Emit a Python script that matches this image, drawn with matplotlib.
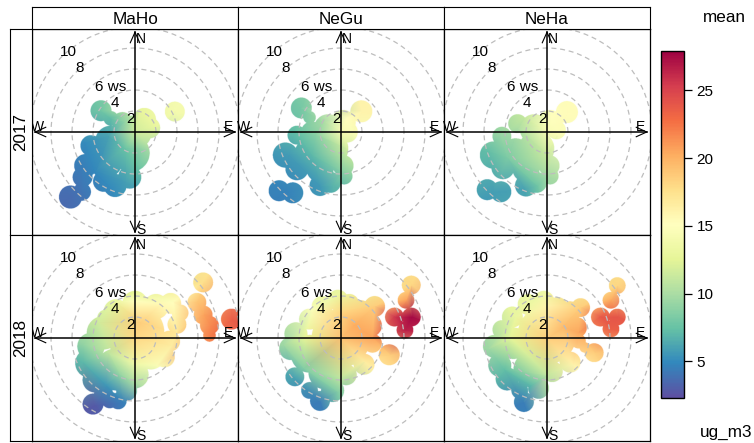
import numpy as np
import matplotlib
matplotlib.use("Agg")
import matplotlib.pyplot as plt
from matplotlib.colors import Normalize
from matplotlib.cm import ScalarMappable

plt.rcParams['font.family'] = ['Liberation Sans', 'DejaVu Sans']

sites = ["MaHo", "NeGu", "NeHa"]
years = ["2017", "2018"]
ws_rings = [2, 4, 6, 8, 10]
ring_labels = ["2", "4", "6 ws", "8", "10"]
cbar_ticks = [5, 10, 15, 20, 25]
cbar_min, cbar_max = 2.3, 27.9

# mean concentration: (x east, y north [ws units], value)
maho17_pts = [
    (0, 0, 11.5), (0.5, 2.0, 12.8), (2.0, 0.5, 13.0), (1.3, -1.6, 9.8),
    (0.35, -3.5, 7.6), (-0.9, -4.8, 5.8), (-2.2, -5.4, 5.0), (-3.8, -3.8, 4.8),
    (-5.0, -2.9, 4.5), (-4.7, -1.0, 5.0), (-2.5, -0.35, 6.0), (-1.0, -1.5, 7.5),
    (-1.0, 1.0, 9.0), (-2.3, 1.3, 7.2), (-3.24, 2.03, 7.8), (3.8, 1.95, 14.0),
    (-6.15, -6.2, 3.6), (-5.05, -5.7, 4.0),
    (0, 12, 12), (8.5, 8.5, 14.5), (12, 0, 13), (8.5, -8.5, 8),
    (0, -12, 5), (-8.5, -8.5, 3.3), (-12, 0, 4.5), (-8.5, 8.5, 7),
]
negu17_pts = [
    (0, 0, 14.2), (0.5, 1.3, 15.0), (1.94, 1.97, 16.0), (1.1, 0, 14.5),
    (0.5, -1.6, 11.5), (0.2, -3.8, 8.7), (-0.75, -5.1, 6.8), (-2.0, -5.1, 5.6),
    (-5.2, -5.7, 4.6), (-4.9, -2.2, 5.7), (-2.7, -2.2, 7.0), (-2.35, -0.3, 8.7),
    (-1.7, 0.95, 9.8), (-3.78, 2.29, 8.0), (-4.4, 0.16, 7.3),
    (0, 12, 13), (8.5, 8.5, 16), (12, 0, 14), (8.5, -8.5, 9),
    (0, -12, 6), (-8.5, -8.5, 4.2), (-12, 0, 5.5), (-8.5, 8.5, 7.5),
]
neha17_pts = [
    (0, 0, 14.3), (0.4, 1.3, 15.0), (1.9, 1.9, 15.3), (1.0, -0.3, 14.5),
    (0.06, -2.2, 11.3), (0.06, -4.1, 9.8), (-0.9, -5.1, 7.8), (-2.2, -5.4, 6.0),
    (-5.0, -5.7, 5.8), (-5.65, -1.9, 7.2), (-3.75, -2.5, 8.2), (-2.8, 0.3, 10.0),
    (-2.2, 1.3, 11.0), (-4.4, -0.3, 9.3),
    (0, 12, 13.5), (8.5, 8.5, 15.5), (12, 0, 14.5), (8.5, -8.5, 10),
    (0, -12, 7), (-8.5, -8.5, 5.3), (-12, 0, 6.5), (-8.5, 8.5, 10),
]
maho18_pts = [
    (0, 0, 18.0), (0.5, 1.5, 18.5), (0, 3.5, 15.0), (0, 4.4, 12.5),
    (-2.0, 3.5, 13.0), (2.5, 3.3, 15.5), (3.65, 3.4, 15.0), (4.0, 0.5, 17.0),
    (3.5, -0.7, 16.5), (2.1, -2.6, 14.5), (0, -2.5, 13.5), (0, -4.3, 10.0),
    (-1.5, -3.5, 9.0), (-2.5, -1.5, 10.8), (-3.5, 1.5, 11.5), (-4.9, -0.7, 9.0),
    (-4.9, -2.3, 7.0), (-2.7, -4.5, 5.5), (-1.1, -6.1, 4.5), (-3.8, -6.4, 2.8),
    (6.5, 5.3, 17.5), (5.9, 3.4, 19.0), (6.5, 2.2, 20.5), (7.1, 1.2, 21.5),
    (7.1, 0.25, 22.0), (9.2, 1.8, 23.5),
    (0, 12, 11), (8.5, 8.5, 17), (12, 0, 24.5), (8.5, -8.5, 14),
    (0, -12, 4), (-8.5, -8.5, 2.5), (-12, 0, 6), (-8.5, 8.5, 10),
]
negu18_pts = [
    (0, 0, 19.2), (1.3, 1.2, 20.2), (0, 2.5, 18.0), (-0.3, 4.1, 13.0),
    (-2.8, 2.5, 14.5), (-3.5, 0, 12.5), (-5.4, -0.7, 9.5), (-3.5, -2.9, 8.5),
    (-4.4, -3.8, 6.0), (-2.0, -6.1, 4.3), (0, -3.8, 11.0), (-0.3, -5.1, 8.5),
    (3.0, 0, 20.5), (4.6, -1.6, 18.5), (2.25, -2.25, 16.5), (3.2, 3.0, 18.5),
    (5.1, 2.0, 25.5), (6.7, 2.0, 27.5), (6.1, 0.76, 26.5), (6.7, 5.05, 18.0),
    (6.2, 3.6, 20.5),
    (0, 12, 12), (8.5, 8.5, 17), (12, 0, 25), (8.5, -8.5, 15),
    (0, -12, 5), (-8.5, -8.5, 4), (-12, 0, 8), (-8.5, 8.5, 11),
]
neha18_pts = [
    (0, 0, 18.5), (1.5, 1.0, 19.5), (3.0, 0.5, 20.4), (0, 3.0, 16.0),
    (-0.25, 4.3, 13.5), (-3.0, 2.0, 13.0), (-3.5, 0, 12.5), (-5.5, -1.0, 9.5),
    (-4.0, -3.0, 7.3), (-2.2, -6.1, 4.4), (-1.5, -4.5, 7.0), (0, -3.5, 11.0),
    (2.5, -2.5, 16.0), (4.5, -1.4, 18.5), (3.2, 2.9, 18.5), (5.1, 2.0, 23.8),
    (6.7, 2.0, 24.0), (6.1, 0.86, 23.5), (6.7, 5.0, 18.0), (6.1, 3.6, 20.3),
    (0, 12, 12), (8.5, 8.5, 17), (12, 0, 23), (8.5, -8.5, 15),
    (0, -12, 5), (-8.5, -8.5, 4.5), (-12, 0, 8.5), (-8.5, 8.5, 11),
]

# area covered by data: circles (x, y, radius) in ws units
maho17_blobs = [
    (0.9, 1.2, 1.1), (1.4, 0.4, 1.0), (0, 0, 1.6), (-1.2, 0.9, 1.0),
    (-2.3, -0.9, 1.5), (-4.2, -1.3, 1.0), (-0.4, -2.0, 1.8), (-2.8, -2.8, 1.6),
    (-4.7, -3.2, 1.1), (-5.0, -4.3, 0.95), (-0.5, -4.3, 1.1), (-1.9, -5.1, 1.1),
    (-3.0, -4.7, 1.0), (-2.3, 1.3, 0.7), (-3.24, 2.03, 1.0), (3.8, 1.95, 0.95),
    (-6.15, -6.2, 1.1), (-5.05, -5.7, 0.85),
]
negu17_blobs = [
    (0.2, 0.9, 1.2), (1.94, 1.97, 1.05), (0.6, 0, 1.0), (-1.2, 0.3, 1.4),
    (-4.2, -0.3, 0.9), (-3.78, 2.29, 1.0), (-3.0, 1.4, 0.6), (-2.8, 0, 1.0),
    (-1.0, -1.6, 1.7), (-3.0, -2.0, 1.4), (-5.3, -2.2, 1.2), (-4.2, -3.5, 1.1),
    (-2.0, -3.5, 1.3), (0.2, -3.2, 1.0), (0.3, -4.2, 0.8), (-1.0, -4.8, 1.0),
    (-2.0, -5.1, 1.0), (-5.9, -5.6, 1.0), (-4.6, -5.8, 1.0),
]
neha17_blobs = [
    (0.3, 0.9, 1.2), (1.9, 1.9, 1.05), (0.9, 0.2, 0.9), (-1.2, 0.3, 1.4),
    (-2.8, 0.8, 0.9), (-4.3, -0.4, 0.9), (-1.0, -1.6, 1.7), (-3.0, -2.0, 1.4),
    (-5.1, -2.2, 1.3), (-4.2, -3.4, 1.1), (-2.0, -3.5, 1.3), (0.2, -3.2, 1.0),
    (0.3, -4.2, 0.8), (-1.0, -4.8, 1.0), (-2.0, -5.1, 1.05), (-5.7, -5.5, 1.0),
    (-4.4, -5.7, 1.0),
]
maho18_blobs = [
    (0, 3.3, 1.2), (-1.8, 2.5, 1.2), (-2.8, 1.9, 0.8), (2.0, 3.0, 1.2),
    (3.4, 3.3, 1.0), (4.0, 1.3, 0.9), (4.3, 2.4, 0.8), (0, 0.5, 2.8),
    (-3.0, 0.5, 1.6), (-4.2, -0.8, 1.3), (-4.3, -2.4, 1.4), (-3.8, -4.0, 1.2),
    (-1.8, -3.0, 2.0), (1.5, -1.5, 1.5), (2.8, -1.8, 1.0), (3.3, -0.3, 1.0),
    (0, -3.5, 1.3), (-0.8, -5.0, 1.0), (-3.0, -5.3, 0.9), (-1.6, -6.0, 0.8),
    (-4.0, -6.3, 1.0), (-2.4, -5.9, 0.8),
    (6.5, 5.3, 0.95), (5.9, 3.4, 0.9), (6.5, 2.2, 0.9), (7.1, 1.2, 0.9),
    (7.1, 0.25, 0.6), (9.2, 1.8, 1.0),
]
negu18_blobs = [
    (0, 0, 2.8), (-0.3, 3.6, 1.0), (-1.8, 3.0, 1.0), (0.8, 3.3, 0.9),
    (1.9, 2.6, 1.0), (3.2, 3.0, 1.0), (2.8, 1.2, 1.1), (3.0, -0.5, 0.9),
    (4.6, -1.6, 1.0), (2.2, -2.5, 1.0), (-3.0, 1.8, 1.0), (-4.3, 0.4, 1.1),
    (-4.8, -1.0, 1.1), (-3.0, -1.5, 1.8), (-4.4, -3.7, 0.9), (-1.5, -3.3, 1.6),
    (0.5, -3.5, 1.0), (-0.8, -5.0, 1.1), (-2.0, -6.0, 0.95), (-3.0, -5.0, 0.8),
    (5.1, 2.0, 0.9), (6.7, 2.0, 0.9), (6.1, 0.76, 0.8), (6.7, 5.05, 0.9),
    (6.2, 3.6, 0.8),
]
neha18_blobs = [
    (0, 0.3, 2.8), (-0.3, 3.5, 1.0), (-1.8, 3.2, 1.0), (1.0, 2.9, 1.0),
    (2.2, 2.5, 1.0), (3.2, 2.9, 0.9), (2.8, 1.0, 1.0), (3.0, -0.3, 0.7),
    (3.6, -0.9, 0.5), (4.5, -1.4, 0.9), (2.2, -2.3, 1.0), (-3.3, 2.0, 1.0),
    (-4.3, 0.8, 0.9), (-3.2, -0.5, 1.5), (-5.0, -0.8, 1.1), (-4.5, -2.6, 1.1),
    (-3.8, -3.9, 1.1), (-1.5, -3.0, 1.7), (0.5, -3.2, 1.0), (-0.8, -4.8, 1.0),
    (-2.2, -6.1, 0.95), (-2.6, -5.0, 0.8),
    (5.1, 2.0, 0.9), (6.7, 2.0, 0.8), (6.1, 0.86, 0.8), (6.7, 5.0, 0.8),
    (6.1, 3.6, 0.8),
]

panel_pts = [[maho17_pts, negu17_pts, neha17_pts], [maho18_pts, negu18_pts, neha18_pts]]
panel_blobs = [[maho17_blobs, negu17_blobs, neha17_blobs], [maho18_blobs, negu18_blobs, neha18_blobs]]

W, H = 754, 443
fig = plt.figure(figsize=(W / 100, H / 100), dpi=100)
cmap = plt.get_cmap('Spectral_r')
norm = Normalize(cbar_min, cbar_max)

px0, py0, pw = 32, 29, 206      # panel grid in pixels
lim = 103 / 10.5                 # half panel in ws units
U = 9.5                          # axis arrow length
ring_lab_xy = [(-0.42, 1.24), (-1.9, 2.73), (-2.3, 4.26), (-5.24, 6.07), (-6.35, 7.65)]

# fine grid used to blank out everything outside the data area
g = np.linspace(-lim, lim, 824)
GX, GY = np.meshgrid(g, g)


def fr(x, y, w, h):
    return [x / W, 1 - (y + h) / H, w / W, h / H]


for r, yr in enumerate(years):
    for c, site in enumerate(sites):
        ax = fig.add_axes(fr(px0 + c * pw, py0 + r * pw, pw, pw))
        ax.set_xticks([])
        ax.set_yticks([])
        for s in ax.spines.values():
            s.set_linewidth(0.9)

        pts = np.array(panel_pts[r][c], dtype=float)
        ax.tripcolor(pts[:, 0], pts[:, 1], pts[:, 2], shading='gouraud',
                     cmap=cmap, norm=norm, zorder=1)

        inside = np.zeros_like(GX, dtype=bool)
        for bx, by, br in panel_blobs[r][c]:
            inside |= (GX - bx) ** 2 + (GY - by) ** 2 <= br ** 2
        mask = np.ones(GX.shape + (4,))
        mask[..., 3] = ~inside
        ax.imshow(mask, extent=(-lim, lim, -lim, lim), origin='lower',
                  interpolation='antialiased', zorder=1.5, aspect='auto')

        # dashed ws circles
        th = np.linspace(0, 2 * np.pi, 200)
        for ws in ws_rings:
            ax.plot(ws * np.cos(th), ws * np.sin(th), color='#bdbdbd', lw=0.9,
                    ls=(0, (4, 3)), zorder=2)

        # axes with arrow heads
        ax.plot([-U, U], [0, 0], color='black', lw=1.1, zorder=3)
        ax.plot([0, 0], [-U, U], color='black', lw=1.1, zorder=3)
        hl, hw = 1.0, 0.45
        for dx, dy in [(1, 0), (-1, 0), (0, 1), (0, -1)]:
            tx, ty = dx * U, dy * U
            for sgn in (1, -1):
                ax.plot([tx, tx - dx * hl + sgn * dy * hw], [ty, ty - dy * hl + sgn * dx * hw],
                        color='black', lw=0.8, zorder=3)
        kw = dict(ha='center', va='center', fontsize=10, zorder=4)
        ax.text(0.55, 8.9, "N", **kw)
        ax.text(0.55, -9.35, "S", **kw)
        ax.text(-9.3, 0.5, "W", **kw)
        ax.text(8.95, 0.5, "E", **kw)
        for (lx, ly), lab in zip(ring_lab_xy, ring_labels):
            ax.text(lx, ly, lab, ha='center', va='center', fontsize=11, zorder=4)
        ax.set_xlim(-lim, lim)
        ax.set_ylim(-lim, lim)

# strips
for c, site in enumerate(sites):
    sax = fig.add_axes(fr(px0 + c * pw, 7, pw, 22))
    sax.set_xticks([])
    sax.set_yticks([])
    sax.text(0.5, 0.45, site, ha='center', va='center', fontsize=12.3, transform=sax.transAxes)
for r, yr in enumerate(years):
    sax = fig.add_axes(fr(10, py0 + r * pw, 22, pw))
    sax.set_xticks([])
    sax.set_yticks([])
    sax.text(0.5, 0.5, yr, ha='center', va='center', rotation=90, fontsize=12.3,
             transform=sax.transAxes)

# colour key
cax = fig.add_axes(fr(661, 51, 23, 347))
cb = fig.colorbar(ScalarMappable(norm=norm, cmap=cmap), cax=cax, ticks=cbar_ticks)
cb.outline.set_linewidth(1.0)
cax.tick_params(direction='out', length=6, width=0.9, labelsize=11, pad=3)
fig.text(724 / W, 1 - 17 / H, "mean", ha='center', va='center', fontsize=12.3)
fig.text(726 / W, 1 - 432 / H, "ug_m3", ha='center', va='center', fontsize=12.3)

fig.savefig("out.png", dpi=100)
